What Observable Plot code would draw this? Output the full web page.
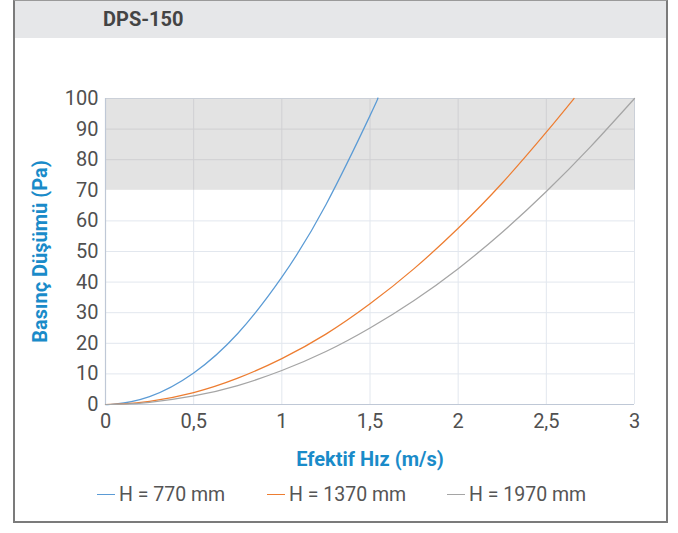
<!DOCTYPE html>
<html>
<head>
<meta charset="utf-8">
<script src="https://cdn.jsdelivr.net/npm/d3@7"></script>
<script src="https://cdn.jsdelivr.net/npm/@observablehq/plot@0.6"></script>
<style>
  html, body { margin: 0; padding: 0; background: #fff; }
  #wrap { position: relative; width: 678px; height: 533px; overflow: hidden; font-family: Roboto, "Noto Sans", sans-serif; }
  #frame { position: absolute; left: 13px; top: 0; width: 655px; height: 523px; box-sizing: border-box; border: 2px solid #7b7b7b; border-top: 1px solid #9a9a9a; }
  #header { position: absolute; left: 15px; top: 1px; width: 651px; height: 37px; background: #e6e7e9; }
  #title { position: absolute; left: 103px; top: 7px; font-weight: 700; font-size: 20px; line-height: 24px; color: #444; }
  #chart { position: absolute; left: 0; top: 38px; }
  #legend { position: absolute; left: 0; top: 482px; width: 678px; height: 24px; font-size: 19.5px; color: #555; }
  .item { position: absolute; top: 0; display: flex; align-items: center; height: 24px; white-space: nowrap; }
  .sw { display: inline-block; width: 18px; height: 0; border-top: 1.5px solid; margin-right: 4px; }
</style>
</head>
<body>
<div id="wrap">
  <div id="frame"></div>
  <div id="header"></div>
  <div id="title">DPS-150</div>
  <div id="chart"></div>
  <div id="legend"></div>
</div>
<script>
// Data
const seriesNames = ["H = 770 mm", "H = 1370 mm", "H = 1970 mm"];
const seriesColors = ["#5b9bd5", "#ed7d31", "#a5a5a5"];

const speed770 = [0, 0.05, 0.25, 0.5, 0.75, 1, 1.25, 1.5, 1.543];
const drop770  = [0, 0.1, 2.6, 10.3, 23.2, 41.6, 65.3, 94.4, 100];

const speed1370 = [0, 0.1, 0.25, 0.5, 0.75, 1, 1.25, 1.5, 1.75, 2, 2.25, 2.5, 2.657];
const drop1370  = [0, 0.2, 1.0, 3.9, 8.6, 15, 23, 32.9, 44.4, 57.6, 72.4, 89, 100];

const speed1970 = [0, 0.1, 0.25, 0.5, 0.75, 1, 1.25, 1.5, 1.75, 2, 2.25, 2.5, 2.75, 3];
const drop1970  = [0, 0.1, 0.7, 2.8, 6.2, 11.1, 17.3, 25, 34, 44.4, 56.3, 69.6, 84.2, 100];

const xTicks = [0, 0.5, 1, 1.5, 2, 2.5, 3];
const yTicks = [0, 10, 20, 30, 40, 50, 60, 70, 80, 90, 100];
const bandRange = [70, 100];

const xLabel = "Efektif Hız (m/s)";
const yLabel = "Basınç Düşümü (Pa)";

const rows = [];
[[speed770, drop770], [speed1370, drop1370], [speed1970, drop1970]].forEach(([xs, ys], i) => {
  xs.forEach((x, j) => rows.push({ series: seriesNames[i], x, y: ys[j] }));
});

const fmt = d => String(d).replace(".", ",");
const tickFont = "Roboto, sans-serif";

const chart = Plot.plot({
  width: 678,
  height: 437,
  marginLeft: 105,
  marginRight: 44,
  marginTop: 60,
  marginBottom: 71,
  style: { fontFamily: tickFont, background: "transparent", overflow: "visible" },
  x: { domain: [0, 3], ticks: xTicks, tickFormat: fmt },
  y: { domain: [0, 100], ticks: yTicks },
  color: { domain: seriesNames, range: seriesColors },
  marks: [
    Plot.rect([bandRange], { x1: 0, x2: 3, y1: d => d[0], y2: d => d[1], fill: "#e3e3e3" }),
    Plot.ruleY(yTicks.filter(d => d > 0 && d < bandRange[0]), { stroke: "#e2e7ee", strokeWidth: 1 }),
    Plot.ruleX(xTicks.filter(d => d > 0), { y1: 0, y2: bandRange[0], stroke: "#e2e7ee", strokeWidth: 1 }),
    Plot.ruleY(yTicks.filter(d => d > bandRange[0] && d < 100), { stroke: "#d3d3d5", strokeWidth: 1.2 }),
    Plot.ruleX(xTicks.filter(d => d > 0 && d < 3), { y1: bandRange[0], y2: 100, stroke: "#d0d0d3", strokeWidth: 1 }),
    Plot.ruleY([100], { stroke: "#cbd0d8", strokeWidth: 1 }),
    Plot.ruleX([3], { y1: bandRange[0], y2: 100, stroke: "#cbd0d8", strokeWidth: 1 }),
    Plot.ruleX([0], { stroke: "#bfc8d6", strokeWidth: 1.2 }),
    Plot.ruleY([0], { stroke: "#bfc8d6", strokeWidth: 1.2 }),
    Plot.line(rows, { x: "x", y: "y", z: "series", stroke: "series", strokeWidth: 1.25, curve: "natural" }),
    Plot.axisX({ ticks: xTicks, tickFormat: fmt, tickSize: 0, tickPadding: 9, fontSize: 20, fill: "#505050", label: null }),
    Plot.axisY({ ticks: yTicks, tickSize: 0, tickPadding: 7, fontSize: 20, fill: "#505050", label: null }),
    Plot.text([xLabel], { frameAnchor: "bottom", dy: 55, lineAnchor: "middle", textAnchor: "middle", fontSize: 20, fontWeight: 700, fill: "#1a8bc9", fontFamily: "Roboto, sans-serif" }),
    Plot.text([yLabel], { frameAnchor: "left", dx: -65, rotate: -90, lineAnchor: "middle", textAnchor: "middle", fontSize: 20, fontWeight: 700, fill: "#1a8bc9", fontFamily: "Roboto, sans-serif" })
  ]
});
document.getElementById("chart").appendChild(chart);

const legend = document.getElementById("legend");
const legendX = [97, 267, 447];
seriesNames.forEach((name, i) => {
  const item = document.createElement("div");
  item.className = "item";
  item.style.left = legendX[i] + "px";
  const sw = document.createElement("span");
  sw.className = "sw";
  sw.style.borderColor = seriesColors[i];
  const t = document.createElement("span");
  t.textContent = name;
  item.appendChild(sw);
  item.appendChild(t);
  legend.appendChild(item);
});
</script>
</body>
</html>
